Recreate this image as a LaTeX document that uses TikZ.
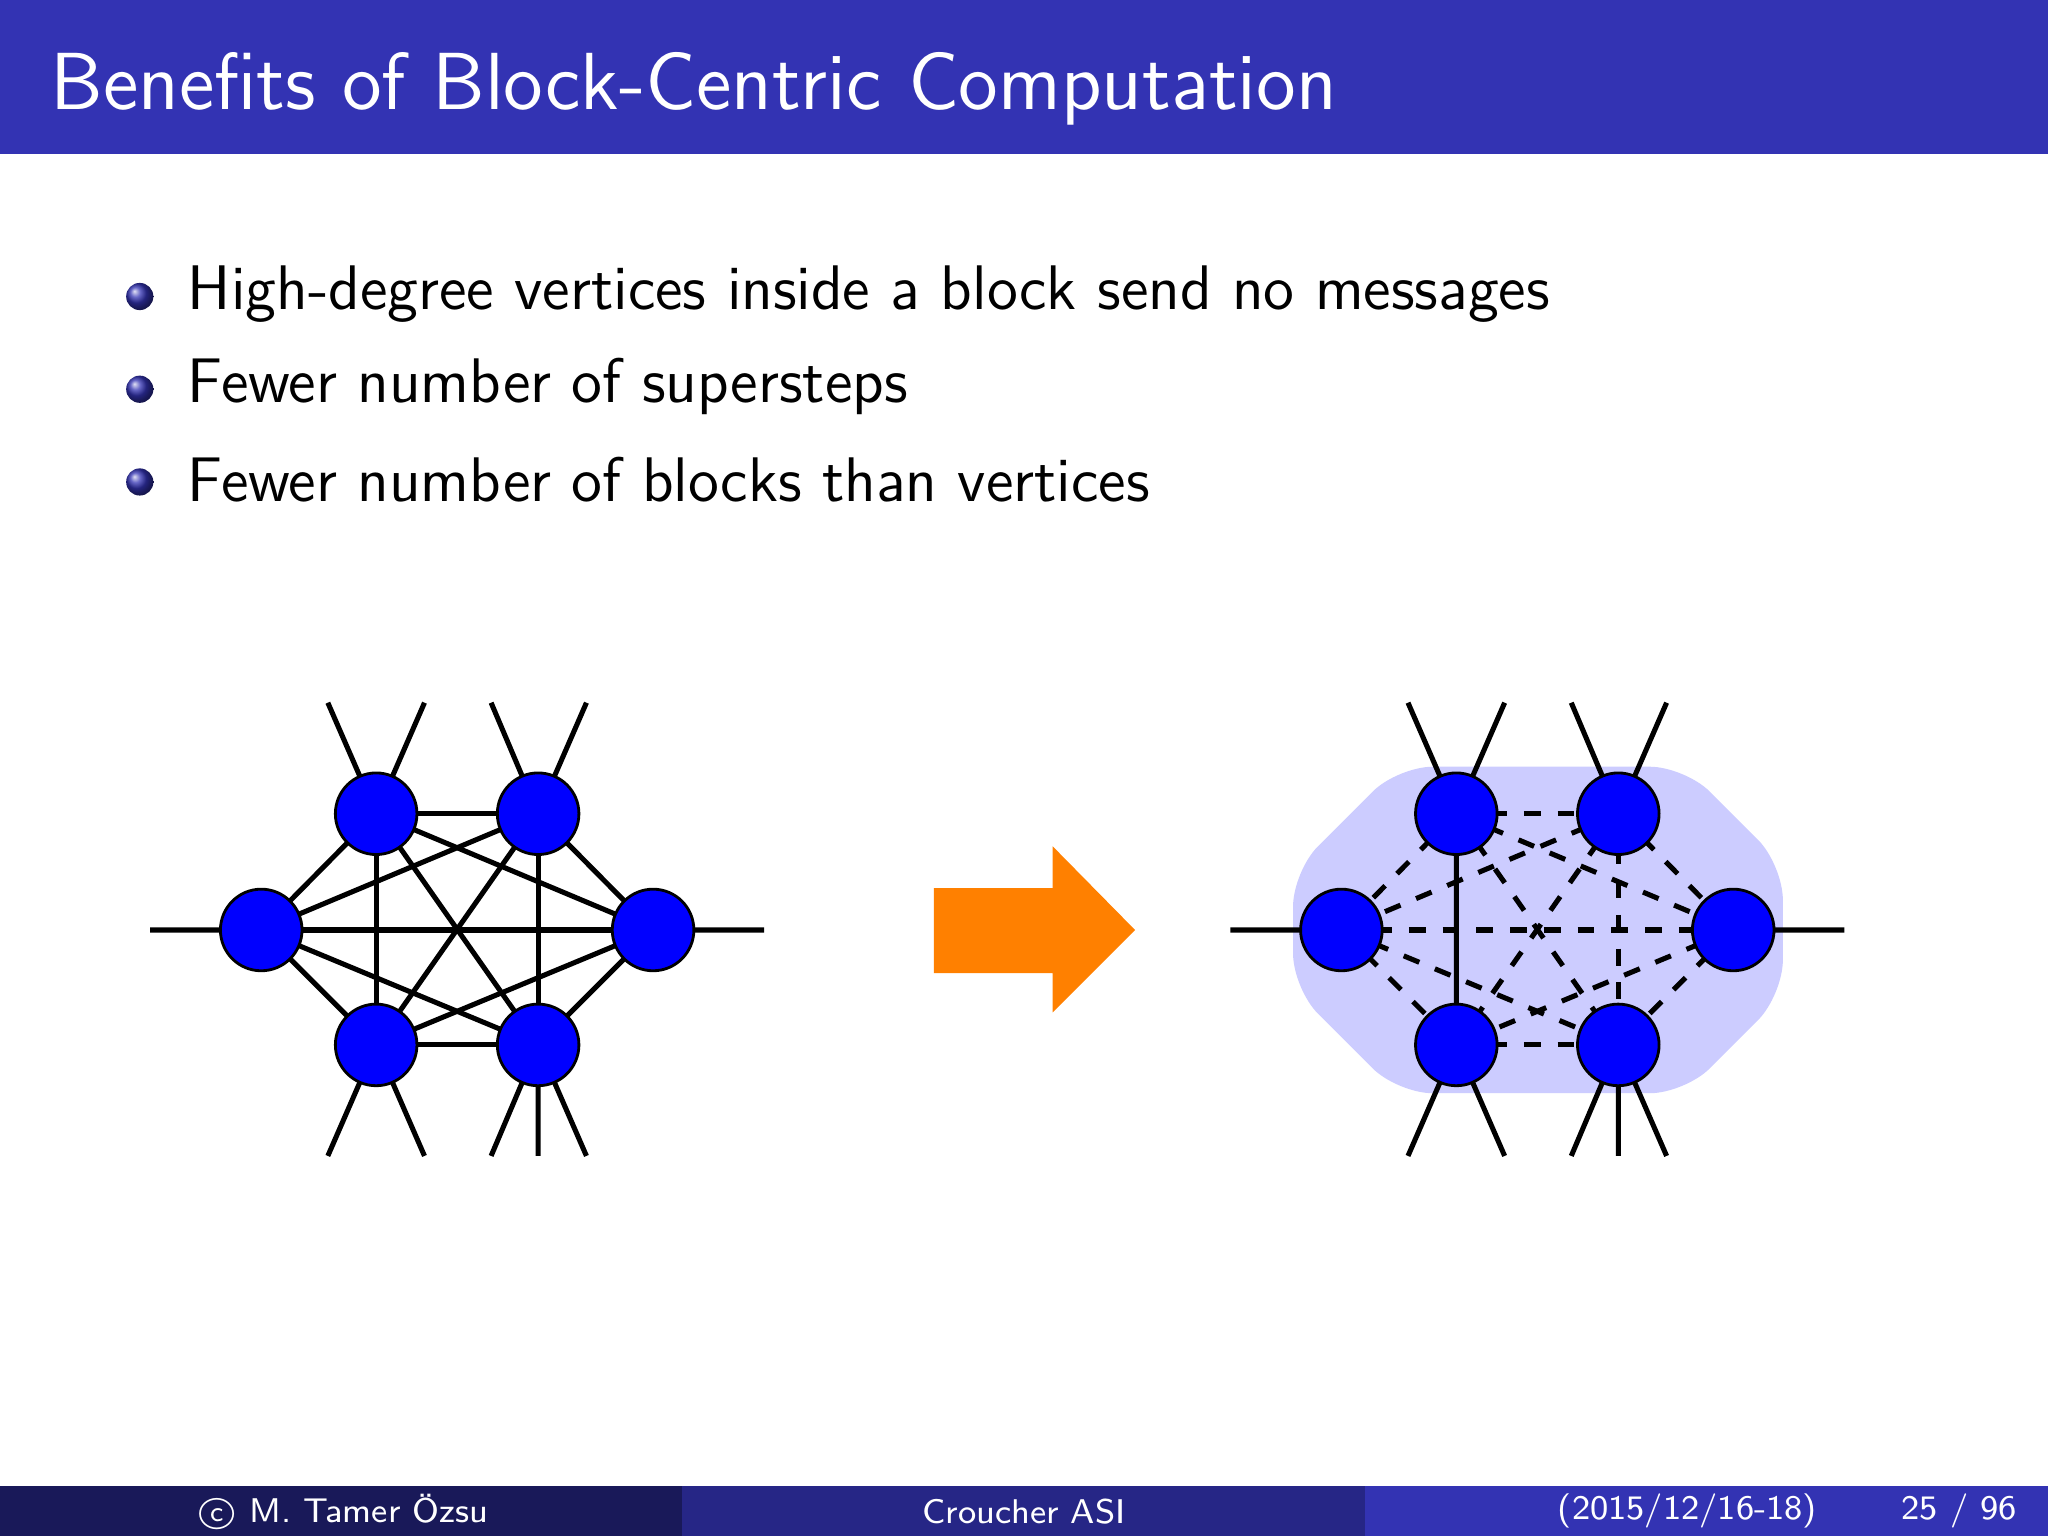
\documentclass[tikz,border=0pt]{standalone}
\usetikzlibrary{shapes.geometric}
\definecolor{hdr}{RGB}{51,51,179}
\definecolor{ftA}{RGB}{25,25,89}
\definecolor{ftB}{RGB}{38,38,134}
\definecolor{vblue}{RGB}{0,0,255}
\definecolor{blk}{RGB}{204,204,255}
\definecolor{org}{RGB}{255,128,0}
\tikzset{v/.style={circle,draw=black,fill=vblue,minimum size=5.1mm,inner sep=0pt,line width=0.5pt},
e/.style={line width=0.9pt},
de/.style={line width=0.9pt,dashed},
bul/.style={circle,inner sep=0pt,minimum size=1.7mm,ball color=hdr},
txt/.style={anchor=west,font=\sffamily\fontsize{11.2}{13}\selectfont,inner sep=0pt}}
\begin{document}
\begin{tikzpicture}[x=0.08163mm,y=-0.08163mm]
\useasboundingbox (0,0) rectangle (1568,1176);
\fill[white] (0,0) rectangle (1568,1176);
\fill[hdr] (0,0) rectangle (1568,118);
\node[anchor=west,text=white,font=\sffamily\fontsize{14.4}{16}\selectfont,inner sep=0pt] (title) at (38,68) {Benefits of Block-Centric Computation};
\node[bul] (b1) at (107,227) {}; \node[txt] (t1) at (143,225) {High-degree vertices inside a block send no messages};
\node[bul] (b2) at (107,298) {}; \node[txt] (t2) at (143,296) {Fewer number of supersteps};
\node[bul] (b3) at (107,369) {}; \node[txt] (t3) at (143,367) {Fewer number of blocks than vertices};
% footer
\fill[ftA] (0,1138) rectangle (522,1176);
\fill[ftB] (522,1138) rectangle (1045,1176);
\fill[hdr] (1045,1138) rectangle (1568,1176);
\begin{scope}[every node/.style={text=white,font=\sffamily\fontsize{6.1}{7}\selectfont,inner sep=0pt}]
\node (fa) at (262,1157) {\textcircled{\tiny c}\ M. Tamer \"Ozsu};
\node (fb) at (784,1157) {Croucher ASI};
\node[anchor=east] (fc) at (1392,1157) {(2015/12/16-18)};
\node[anchor=east] (fd) at (1545,1157) {25 / 96};
\end{scope}
% left graph
\begin{scope}
\coordinate (a1) at (115,712); \coordinate (a2) at (585,712);
\coordinate (u1) at (251,538); \coordinate (u2) at (325,538);
\coordinate (u3) at (376,538); \coordinate (u4) at (449,538);
\coordinate (d1) at (251,885); \coordinate (d2) at (325,885);
\coordinate (d3) at (376,885); \coordinate (d4) at (412,885); \coordinate (d5) at (449,885);
\coordinate (pTL) at (288,623); \coordinate (pTR) at (412,623);
\coordinate (pL) at (200,712); \coordinate (pR) at (500,712);
\coordinate (pBL) at (288,800); \coordinate (pBR) at (412,800);
\draw[e] (a1)--(pL) (a2)--(pR) (u1)--(pTL) (u2)--(pTL) (u3)--(pTR) (u4)--(pTR)
 (d1)--(pBL) (d2)--(pBL) (d3)--(pBR) (d4)--(pBR) (d5)--(pBR);
\foreach \p/\q in {TL/TR,TL/L,TL/BL,TL/BR,TL/R,TR/L,TR/R,TR/BR,TR/BL,L/R,L/BL,L/BR,R/BL,R/BR,BL/BR}
 \draw[e] (p\p)--(p\q);
\foreach \p in {TL,TR,L,R,BL,BR} \node[v] (n\p) at (p\p) {};
\end{scope}
% arrow
\fill[org] (715,680) -- (806,680) -- (806,648) -- (869,712) -- (806,775) -- (806,745) -- (715,745) -- cycle;
% right graph
\begin{scope}[xshift=827*0.08163mm]
\fill[blk,rounded corners=2.2mm] (1070-827,587) -- (1290-827,587) -- (1365-827,662) -- (1365-827,762) -- (1290-827,837) -- (1070-827,837) -- (990-827,757) -- (990-827,667) -- cycle;
\coordinate (a1) at (115,712); \coordinate (a2) at (585,712);
\coordinate (u1) at (251,538); \coordinate (u2) at (325,538);
\coordinate (u3) at (376,538); \coordinate (u4) at (449,538);
\coordinate (d1) at (251,885); \coordinate (d2) at (325,885);
\coordinate (d3) at (376,885); \coordinate (d4) at (412,885); \coordinate (d5) at (449,885);
\coordinate (qTL) at (288,623); \coordinate (qTR) at (412,623);
\coordinate (qL) at (200,712); \coordinate (qR) at (500,712);
\coordinate (qBL) at (288,800); \coordinate (qBR) at (412,800);
\draw[e] (a1)--(qL) (a2)--(qR) (u1)--(qTL) (u2)--(qTL) (u3)--(qTR) (u4)--(qTR)
 (d1)--(qBL) (d2)--(qBL) (d3)--(qBR) (d4)--(qBR) (d5)--(qBR) (qTL)--(qBL);
\foreach \p/\q in {TL/TR,TL/L,TL/BR,TL/R,TR/L,TR/R,TR/BR,TR/BL,L/R,L/BL,L/BR,R/BL,R/BR,BL/BR}
 \draw[de] (q\p)--(q\q);
\foreach \p in {TL,TR,L,R,BL,BR} \node[v] (m\p) at (q\p) {};
\end{scope}
\end{tikzpicture}
\end{document}
